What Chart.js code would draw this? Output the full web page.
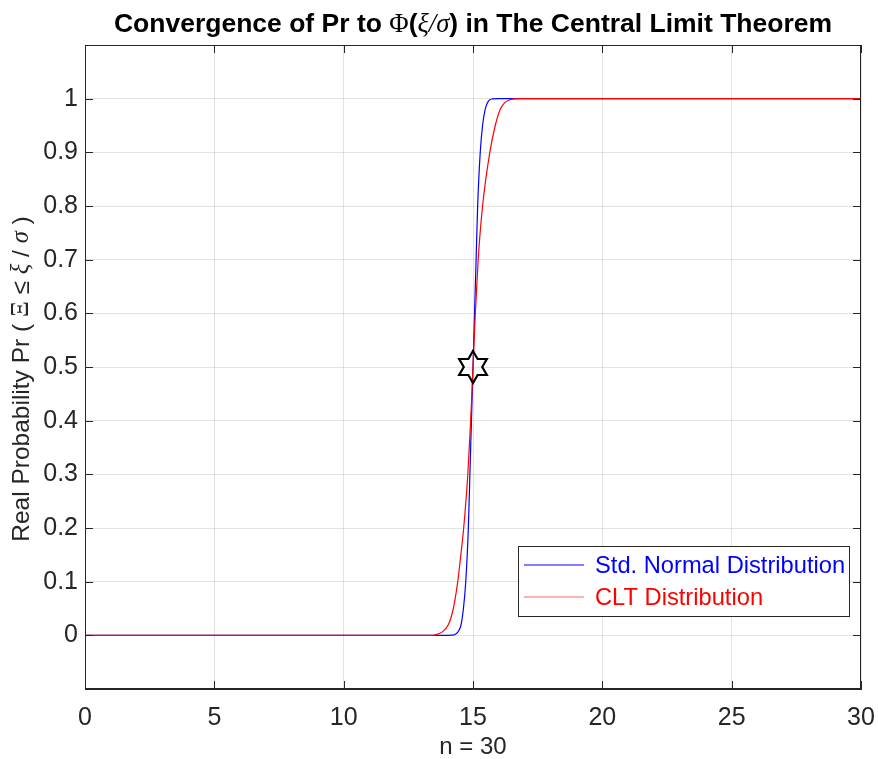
<!DOCTYPE html>
<html>
<head>
<meta charset="utf-8">
<script src="https://cdn.jsdelivr.net/npm/chart.js@4.4.1/dist/chart.umd.min.js"></script>
<style>
  html, body { margin: 0; padding: 0; background: #ffffff; }
  canvas { display: block; }
</style>
</head>
<body>
<canvas id="cltChart" width="878" height="759"></canvas>
<script>
// ---- data ----
const xTicks = [0, 5, 10, 15, 20, 25, 30];
const yTicks = [0, 0.1, 0.2, 0.3, 0.4, 0.5, 0.6, 0.7, 0.8, 0.9, 1];

// standard normal CDF (scaled to n = 30 trials)
const normalX = [0, 14.0, 14.2, 14.35, 14.45, 14.54, 14.63, 14.72, 14.82, 14.88, 14.94, 15.0,
                 15.06, 15.12, 15.18, 15.28, 15.37, 15.47, 15.6, 15.75, 16.0, 30];
const normalY = [0, 0, 0.0003, 0.003, 0.009, 0.02, 0.05, 0.10, 0.20, 0.30, 0.40, 0.50,
                 0.60, 0.70, 0.80, 0.90, 0.95, 0.98, 0.996, 0.9995, 1, 1];

// empirical CLT distribution
const cltX = [0, 13.3, 13.55, 13.8, 14.05, 14.24, 14.41, 14.53, 14.64, 14.80, 14.91, 15.0,
              15.09, 15.2, 15.37, 15.65, 15.86, 16.05, 16.22, 16.4, 16.6, 16.9, 30];
const cltY = [0, 0, 0.001, 0.006, 0.02, 0.05, 0.10, 0.15, 0.20, 0.30, 0.40, 0.50,
              0.60, 0.70, 0.80, 0.90, 0.95, 0.98, 0.992, 0.9975, 0.9995, 1, 1];

// crossing point Pr = 0.5
const centerX = [15];
const centerY = [0.5];

const seriesNames = ['Std. Normal Distribution', 'CLT Distribution'];
const seriesColors = ['#0000ff', '#ff0000'];

const SANS = "'Liberation Sans', Arial, Helvetica, sans-serif";
const SERIF = "'Liberation Serif', 'Times New Roman', serif";
const INK = '#262626';

// titles, set in runs so the math symbols use a serif face
const titleRuns = [
  { text: 'Convergence of Pr to ', font: 'bold 26.5px ' + SANS },
  { text: '\u03A6', font: '26.5px ' + SERIF },
  { text: '(', font: 'bold 26.5px ' + SANS },
  { text: '\u03BE/\u03C3', font: 'italic 26.5px ' + SERIF },
  { text: ')', font: 'bold 26.5px ' + SANS },
  { text: ' in The Central Limit Theorem', font: 'bold 26.5px ' + SANS }
];
const yLabelRuns = [
  { text: 'Real Probability Pr ( ', font: '24.5px ' + SANS },
  { text: '\u039E', font: '24.5px ' + SERIF },
  { text: ' \u2264 ', font: '24.5px ' + SANS },
  { text: '\u03BE', font: 'italic 24.5px ' + SERIF },
  { text: ' / ', font: '24.5px ' + SANS },
  { text: '\u03C3', font: 'italic 24.5px ' + SERIF },
  { text: ' )', font: '24.5px ' + SANS }
];
const axisTitleX = 'n = 30';

// ---- helpers ----
const toPoints = (xs, ys) => xs.map((x, i) => ({ x: x, y: ys[i] }));

function drawRuns(ctx, runs, cx, cy) {
  let total = 0;
  runs.forEach(run => { ctx.font = run.font; run.w = ctx.measureText(run.text).width; total += run.w; });
  let x = cx - total / 2;
  runs.forEach(run => { ctx.font = run.font; ctx.fillText(run.text, x, cy); x += run.w; });
}

// six-pointed star marker
function hexagramMarker(R) {
  const size = Math.ceil(2 * R + 6);
  const c = document.createElement('canvas');
  c.width = size; c.height = size;
  const g = c.getContext('2d');
  const r = R / Math.sqrt(3);
  g.translate(size / 2, size / 2);
  g.beginPath();
  for (let k = 0; k < 12; k++) {
    const a = -Math.PI / 2 + k * Math.PI / 6;
    const rad = (k % 2 === 0) ? R : r;
    const px = rad * Math.cos(a), py = rad * Math.sin(a);
    if (k === 0) g.moveTo(px, py); else g.lineTo(px, py);
  }
  g.closePath();
  g.lineWidth = 2.2;
  g.lineJoin = 'miter';
  g.strokeStyle = '#000000';
  g.stroke();
  return c;
}

const mixedTitles = {
  id: 'mixedTitles',
  afterDraw(chart) {
    const ctx = chart.ctx;
    const area = chart.chartArea;
    ctx.save();
    ctx.textBaseline = 'middle';
    ctx.textAlign = 'left';
    ctx.fillStyle = '#000000';
    drawRuns(ctx, titleRuns, (area.left + area.right) / 2, 25);
    ctx.fillStyle = INK;
    ctx.translate(22, (area.top + area.bottom) / 2 + 12);
    ctx.rotate(-Math.PI / 2);
    drawRuns(ctx, yLabelRuns, 0, 0);
    ctx.restore();
  }
};

// axes box with inward tick marks on all four sides
const boxAxes = {
  id: 'boxAxes',
  afterDatasetsDraw(chart) {
    const ctx = chart.ctx;
    const a = chart.chartArea;
    const xs = chart.scales.x, ys = chart.scales.y;
    const len = 8;
    ctx.save();
    ctx.strokeStyle = INK;
    ctx.lineWidth = 1;
    ctx.beginPath();
    xs.ticks.forEach(t => {
      const px = Math.round(xs.getPixelForValue(t.value)) + 0.5;
      ctx.moveTo(px, a.bottom); ctx.lineTo(px, a.bottom - len);
      ctx.moveTo(px, a.top); ctx.lineTo(px, a.top + len);
    });
    ys.ticks.forEach(t => {
      const py = Math.round(ys.getPixelForValue(t.value)) + 0.5;
      ctx.moveTo(a.left, py); ctx.lineTo(a.left + len, py);
      ctx.moveTo(a.right, py); ctx.lineTo(a.right - len, py);
    });
    ctx.stroke();
    ctx.strokeRect(Math.round(a.left) + 0.5, Math.round(a.top) + 0.5,
                   Math.round(a.right - a.left) - 1, Math.round(a.bottom - a.top) - 1);
    ctx.restore();
  }
};

// boxed legend inside the lower right of the axes
const boxLegend = {
  id: 'boxLegend',
  afterDraw(chart) {
    const ctx = chart.ctx;
    const a = chart.chartArea;
    ctx.save();
    ctx.font = '23.7px ' + SANS;
    const textW = Math.max(...seriesNames.map(s => ctx.measureText(s).width));
    const lineLen = 60, gapL = 6, gapT = 11, padR = 4, rowH = 32;
    const w = Math.round(gapL + lineLen + gapT + textW + padR);
    const h = rowH * seriesNames.length + 6;
    const right = Math.round(a.right - 12);
    const bottom = Math.round(a.bottom - 73);
    const left = right - w, top = bottom - h;
    ctx.fillStyle = '#ffffff';
    ctx.fillRect(left, top, w, h);
    ctx.strokeStyle = INK;
    ctx.lineWidth = 1;
    ctx.strokeRect(left + 0.5, top + 0.5, w, h);
    ctx.textBaseline = 'middle';
    ctx.textAlign = 'left';
    seriesNames.forEach((name, i) => {
      const cy = top + 3 + rowH * i + rowH / 2;
      ctx.strokeStyle = seriesColors[i];
      ctx.lineWidth = 1.2;
      ctx.globalAlpha = i === 1 ? 0.6 : 1;
      ctx.beginPath();
      ctx.moveTo(left + gapL, Math.round(cy));
      ctx.lineTo(left + gapL + lineLen, Math.round(cy));
      ctx.stroke();
      ctx.globalAlpha = 1;
      ctx.fillStyle = seriesColors[i];
      ctx.fillText(name, left + gapL + lineLen + gapT, cy + 1);
    });
    ctx.restore();
  }
};

Chart.defaults.font.family = SANS;
Chart.defaults.color = INK;

new Chart(document.getElementById('cltChart'), {
  type: 'line',
  data: {
    datasets: [
      {
        label: seriesNames[0],
        data: toPoints(normalX, normalY),
        borderColor: seriesColors[0],
        borderWidth: 1.2,
        pointRadius: 0,
        cubicInterpolationMode: 'monotone',
        fill: false,
        order: 2
      },
      {
        label: seriesNames[1],
        data: toPoints(cltX, cltY),
        borderColor: seriesColors[1],
        borderWidth: 1.2,
        pointRadius: 0,
        cubicInterpolationMode: 'monotone',
        fill: false,
        order: 1
      },
      {
        label: 'Pr = 0.5',
        data: toPoints(centerX, centerY),
        showLine: false,
        pointStyle: hexagramMarker(16),
        pointRadius: 16,
        order: 0
      }
    ]
  },
  options: {
    responsive: false,
    animation: false,
    layout: { padding: { top: 45, right: 14, left: 0, bottom: 0 } },
    plugins: {
      legend: { display: false },
      title: { display: false },
      tooltip: { enabled: false }
    },
    scales: {
      x: {
        type: 'linear',
        min: 0,
        max: 30,
        afterBuildTicks: s => { s.ticks = xTicks.map(v => ({ value: v })); },
        afterFit: s => { s.height = 70; s.paddingLeft = 0; s.paddingRight = 0; },
        ticks: { font: { size: 25 }, color: INK, padding: 14, maxRotation: 0, autoSkip: false,
                 callback: v => String(v) },
        grid: { color: 'rgba(38,38,38,0.13)', drawTicks: false, lineWidth: 1 },
        border: { display: true, color: INK, width: 1 },
        title: { display: true, text: axisTitleX, font: { size: 24, lineHeight: 1 }, color: INK,
                 padding: { top: 0, bottom: 0 } }
      },
      y: {
        type: 'linear',
        min: -0.1,
        max: 1.1,
        afterBuildTicks: s => { s.ticks = yTicks.map(v => ({ value: v })); },
        afterFit: s => { s.width = 85; s.paddingTop = 0; s.paddingBottom = 0; },
        ticks: { font: { size: 25 }, color: INK, padding: 7, autoSkip: false,
                 callback: v => String(v) },
        grid: { color: 'rgba(38,38,38,0.13)', drawTicks: false, lineWidth: 1 },
        border: { display: true, color: INK, width: 1 }
      }
    }
  },
  plugins: [mixedTitles, boxAxes, boxLegend]
});
</script>
</body>
</html>
